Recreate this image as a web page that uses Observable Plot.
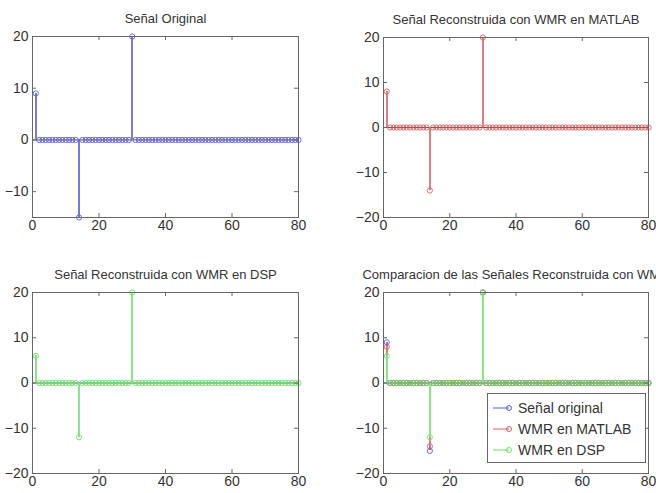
<!DOCTYPE html>
<html>
<head>
<meta charset="utf-8">
<script src="https://cdn.jsdelivr.net/npm/d3@7"></script>
<script src="https://cdn.jsdelivr.net/npm/@observablehq/plot@0.6"></script>
<style>
  html, body { margin: 0; padding: 0; background: #fff; overflow: hidden; }
  #wrap { position: relative; width: 656px; height: 493px; overflow: hidden; font-family: "Liberation Sans", Arial, sans-serif; }
  .panel { position: absolute; }
  .legend { position: absolute; left: 487px; top: 393px; width: 157px; height: 68px; border: 1px solid #666; background: #fff; font-size: 14px; color: #333; }
  .legend .row { position: absolute; left: 0; height: 20px; line-height: 20px; white-space: nowrap; }
  .legend svg { position: absolute; left: 4px; top: 5px; }
  .legend span { position: absolute; left: 30px; top: 0; }
</style>
</head>
<body>
<div id="wrap"></div>
<script>
// ---- data (sample index 1..80) ----
const n = [1,2,3,4,5,6,7,8,9,10,11,12,13,14,15,16,17,18,19,20,21,22,23,24,25,26,27,28,29,30,31,32,33,34,35,36,37,38,39,40,41,42,43,44,45,46,47,48,49,50,51,52,53,54,55,56,57,58,59,60,61,62,63,64,65,66,67,68,69,70,71,72,73,74,75,76,77,78,79,80];
const original = [9,0,0,0,0,0,0,0,0,0,0,0,0,-15,0,0,0,0,0,0,0,0,0,0,0,0,0,0,0,20,0,0,0,0,0,0,0,0,0,0,0,0,0,0,0,0,0,0,0,0,0,0,0,0,0,0,0,0,0,0,0,0,0,0,0,0,0,0,0,0,0,0,0,0,0,0,0,0,0,0];
const wmrMatlab = [8,0,0,0,0,0,0,0,0,0,0,0,0,-14,0,0,0,0,0,0,0,0,0,0,0,0,0,0,0,20,0,0,0,0,0,0,0,0,0,0,0,0,0,0,0,0,0,0,0,0,0,0,0,0,0,0,0,0,0,0,0,0,0,0,0,0,0,0,0,0,0,0,0,0,0,0,0,0,0,0];
const wmrDsp = [6,0,0,0,0,0,0,0,0,0,0,0,0,-12,0,0,0,0,0,0,0,0,0,0,0,0,0,0,0,20,0,0,0,0,0,0,0,0,0,0,0,0,0,0,0,0,0,0,0,0,0,0,0,0,0,0,0,0,0,0,0,0,0,0,0,0,0,0,0,0,0,0,0,0,0,0,0,0,0,0];
const seriesNames = ["Señal original", "WMR en MATLAB", "WMR en DSP"];
const titles = ["Señal Original", "Señal Reconstruida con WMR en MATLAB", "Señal Reconstruida con WMR en DSP", "Comparacion de las Señales Reconstruida con WMR"];
const xTicks = [0, 20, 40, 60, 80];
const yTicks1 = [-10, 0, 10, 20];
const yTicks = [-20, -10, 0, 10, 20];

const colors = ["#5a5ad4", "#dc6060", "#6ae26a"];
const stemColors = ["#7a7adc", "#e27e7e", "#84e884"];
const toRows = (vals) => n.map((x, i) => ({x, v: vals[i]}));
const rowsOrig = toRows(original), rowsMat = toRows(wmrMatlab), rowsDsp = toRows(wmrDsp);

const font = '"Liberation Sans", Arial, sans-serif';

function stemMarks(rows, i) {
  return [
    Plot.ruleX(rows.filter(d => d.v !== 0), {x: "x", y1: 0, y2: "v", stroke: stemColors[i], strokeWidth: 2, shapeRendering: "crispEdges"}),
    Plot.dot(rows, {x: "x", y: "v", r: 2.6, stroke: colors[i], fill: "none", strokeWidth: 1, strokeOpacity: 0.9})
  ];
}

function panel({left, top, width, height, margins, yDomain, yt, title, series}) {
  const [mt, mr, mb, ml] = margins;
  const pw = width - ml - mr, ph = height - mt - mb;
  const chart = Plot.plot({
    width, height,
    marginTop: mt, marginRight: mr, marginBottom: mb, marginLeft: ml,
    style: {fontFamily: font, background: "transparent", overflow: "visible", color: "#333"},
    x: {domain: [0, 80], label: null},
    y: {domain: yDomain, label: null},
    marks: [
      Plot.ruleY([0], {stroke: "#555", strokeWidth: 1}),
      ...series.flatMap(([rows, i]) => stemMarks(rows, i)),
      Plot.frame({stroke: "#666", strokeWidth: 1}),
      Plot.tickY(yt, {y: d => d, insetRight: pw - 4, stroke: "#666"}),
      Plot.tickY(yt, {y: d => d, insetLeft: pw - 4, stroke: "#666"}),
      Plot.tickX(xTicks, {x: d => d, insetTop: ph - 4, stroke: "#666"}),
      Plot.tickX(xTicks, {x: d => d, insetBottom: ph - 4, stroke: "#666"}),
      Plot.axisX(xTicks, {tickSize: 0, tickPadding: 3, fontSize: 14, fill: "#333"}),
      Plot.axisY(yt, {tickSize: 0, tickPadding: 4, fontSize: 14, fill: "#333"}),
      Plot.text([title], {frameAnchor: "top", dy: -14, lineAnchor: "bottom", fontSize: 13, fill: "#333"})
    ]
  });
  chart.classList.add("panel");
  chart.style.left = left + "px";
  chart.style.top = top + "px";
  chart.style.position = "absolute";
  document.getElementById("wrap").appendChild(chart);
}

panel({left: 0, top: 0, width: 328, height: 247, margins: [36, 30, 30, 32], yDomain: [-15, 20], yt: yTicks1, title: titles[0], series: [[rowsOrig, 0]]});
panel({left: 328, top: 0, width: 328, height: 247, margins: [37, 8, 30, 55], yDomain: [-20, 20], yt: yTicks, title: titles[1], series: [[rowsMat, 1]]});
panel({left: 0, top: 247, width: 328, height: 246, margins: [45, 30, 20, 32], yDomain: [-20, 20], yt: yTicks, title: titles[2], series: [[rowsDsp, 2]]});
panel({left: 328, top: 247, width: 328, height: 246, margins: [45, 8, 20, 55], yDomain: [-20, 20], yt: yTicks, title: titles[3], series: [[rowsOrig, 0], [rowsMat, 1], [rowsDsp, 2]]});

// legend
const leg = document.createElement("div");
leg.className = "legend";
seriesNames.forEach((name, i) => {
  const row = document.createElement("div");
  row.className = "row";
  row.style.top = (4 + i * 21) + "px";
  row.style.width = "150px";
  row.innerHTML = `<svg width="24" height="10"><line x1="1" y1="5" x2="17" y2="5" stroke="${colors[i]}"/><circle cx="17" cy="5" r="2.5" fill="none" stroke="${colors[i]}"/></svg><span>${name}</span>`;
  leg.appendChild(row);
});
document.getElementById("wrap").appendChild(leg);
</script>
</body>
</html>
